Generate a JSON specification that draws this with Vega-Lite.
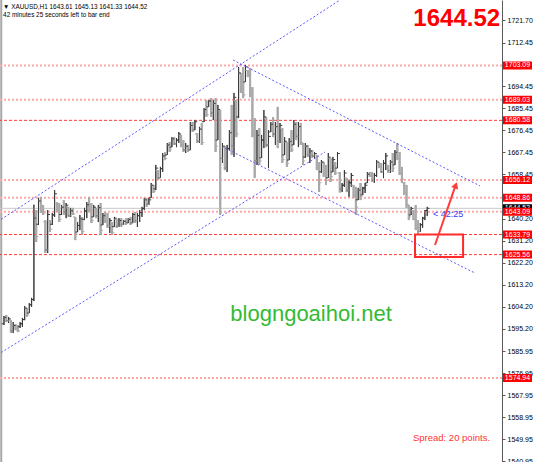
{
"$schema": "https://vega.github.io/schema/vega-lite/v6.json",
"width": 502, "height": 462,
"autosize": {"type": "none"},
"padding": {"left": 0, "top": 0, "right": 32, "bottom": 0},
"background": "white",
"config": {"view": {"stroke": null}, "font": "Liberation Sans"},
"datasets": {
"bars": [
{"t":0,"o":1597.2,"h":1600.4,"l":1596.7,"c":1599.8},
{"t":1,"o":1599.8,"h":1600.8,"l":1597.9,"c":1598.5},
{"t":2,"o":1598.5,"h":1600.0,"l":1597.5,"c":1599.2},
{"t":3,"o":1598.7,"h":1598.7,"l":1593.4,"c":1594.2},
{"t":4,"o":1594.2,"h":1597.9,"l":1593.4,"c":1596.5},
{"t":5,"o":1596.5,"h":1597.1,"l":1594.6,"c":1595.0},
{"t":6,"o":1595.0,"h":1596.7,"l":1593.8,"c":1594.3},
{"t":7,"o":1596.0,"h":1597.9,"l":1595.5,"c":1597.2},
{"t":8,"o":1597.2,"h":1599.6,"l":1595.9,"c":1598.9},
{"t":9,"o":1599.0,"h":1604.5,"l":1598.7,"c":1603.6},
{"t":10,"o":1603.6,"h":1603.7,"l":1600.0,"c":1600.8},
{"t":11,"o":1601.6,"h":1605.7,"l":1601.6,"c":1605.0},
{"t":12,"o":1605.0,"h":1607.8,"l":1604.1,"c":1607.2},
{"t":13,"o":1607.2,"h":1646.0,"l":1606.5,"c":1640.5},
{"t":14,"o":1640.5,"h":1643.8,"l":1630.7,"c":1633.0},
{"t":15,"o":1638.0,"h":1648.8,"l":1637.7,"c":1647.5},
{"t":16,"o":1647.5,"h":1649.2,"l":1642.6,"c":1643.5},
{"t":17,"o":1643.5,"h":1645.9,"l":1641.8,"c":1642.5},
{"t":18,"o":1639.0,"h":1639.7,"l":1626.2,"c":1627.5},
{"t":19,"o":1627.5,"h":1643.8,"l":1626.2,"c":1642.0},
{"t":20,"o":1639.5,"h":1639.7,"l":1634.8,"c":1636.0},
{"t":21,"o":1638.0,"h":1642.6,"l":1637.7,"c":1641.8},
{"t":22,"o":1641.8,"h":1652.0,"l":1641.0,"c":1650.5},
{"t":23,"o":1646.5,"h":1647.1,"l":1643.0,"c":1644.0},
{"t":24,"o":1644.0,"h":1646.7,"l":1638.9,"c":1640.0},
{"t":25,"o":1642.0,"h":1645.9,"l":1641.8,"c":1645.0},
{"t":26,"o":1645.0,"h":1647.9,"l":1641.8,"c":1643.0},
{"t":27,"o":1643.0,"h":1646.7,"l":1640.5,"c":1645.8},
{"t":28,"o":1645.1,"h":1645.1,"l":1641.0,"c":1641.5},
{"t":29,"o":1641.5,"h":1644.7,"l":1641.0,"c":1643.5},
{"t":30,"o":1643.5,"h":1644.7,"l":1641.8,"c":1642.2},
{"t":31,"o":1641.0,"h":1641.0,"l":1631.5,"c":1634.0},
{"t":32,"o":1634.8,"h":1638.9,"l":1634.8,"c":1637.5},
{"t":33,"o":1637.5,"h":1641.8,"l":1635.6,"c":1640.2},
{"t":34,"o":1640.2,"h":1641.0,"l":1633.6,"c":1635.0},
{"t":35,"o":1640.0,"h":1644.7,"l":1639.7,"c":1643.5},
{"t":36,"o":1643.5,"h":1647.1,"l":1640.5,"c":1646.0},
{"t":37,"o":1646.0,"h":1649.2,"l":1643.0,"c":1644.0},
{"t":38,"o":1644.0,"h":1646.7,"l":1638.5,"c":1639.5},
{"t":39,"o":1641.0,"h":1645.9,"l":1641.0,"c":1645.0},
{"t":40,"o":1644.5,"h":1644.7,"l":1640.5,"c":1641.5},
{"t":41,"o":1641.5,"h":1645.9,"l":1638.9,"c":1644.8},
{"t":42,"o":1644.8,"h":1646.7,"l":1633.6,"c":1635.5},
{"t":43,"o":1637.7,"h":1642.6,"l":1637.7,"c":1641.5},
{"t":44,"o":1641.5,"h":1643.0,"l":1638.5,"c":1639.5},
{"t":45,"o":1639.5,"h":1642.6,"l":1636.5,"c":1637.5},
{"t":46,"o":1637.5,"h":1640.5,"l":1634.4,"c":1639.5},
{"t":47,"o":1638.5,"h":1638.9,"l":1633.6,"c":1634.5},
{"t":48,"o":1637.0,"h":1641.0,"l":1636.9,"c":1640.5},
{"t":49,"o":1640.0,"h":1640.2,"l":1636.5,"c":1637.2},
{"t":50,"o":1637.2,"h":1640.5,"l":1636.9,"c":1639.5},
{"t":51,"o":1639.5,"h":1640.5,"l":1636.9,"c":1638.0},
{"t":52,"o":1638.0,"h":1639.7,"l":1637.7,"c":1639.2},
{"t":53,"o":1639.2,"h":1640.5,"l":1637.7,"c":1638.3},
{"t":54,"o":1638.5,"h":1640.5,"l":1638.5,"c":1640.0},
{"t":55,"o":1640.0,"h":1641.0,"l":1637.7,"c":1638.5},
{"t":56,"o":1638.5,"h":1642.6,"l":1638.5,"c":1642.0},
{"t":57,"o":1642.0,"h":1643.0,"l":1638.5,"c":1639.5},
{"t":58,"o":1639.5,"h":1642.6,"l":1636.9,"c":1641.5},
{"t":59,"o":1641.5,"h":1643.8,"l":1638.9,"c":1642.8},
{"t":60,"o":1642.8,"h":1645.1,"l":1641.0,"c":1644.5},
{"t":61,"o":1644.5,"h":1648.8,"l":1643.8,"c":1648.0},
{"t":62,"o":1648.0,"h":1648.8,"l":1645.1,"c":1646.2},
{"t":63,"o":1646.2,"h":1648.8,"l":1645.9,"c":1648.0},
{"t":64,"o":1648.8,"h":1654.9,"l":1648.8,"c":1654.0},
{"t":65,"o":1654.0,"h":1654.1,"l":1650.8,"c":1651.5},
{"t":66,"o":1652.5,"h":1662.3,"l":1652.0,"c":1661.0},
{"t":67,"o":1660.0,"h":1660.2,"l":1656.1,"c":1657.0},
{"t":68,"o":1657.0,"h":1661.5,"l":1657.0,"c":1660.8},
{"t":69,"o":1660.8,"h":1667.2,"l":1659.4,"c":1666.0},
{"t":70,"o":1666.0,"h":1667.6,"l":1664.3,"c":1665.0},
{"t":71,"o":1666.4,"h":1671.3,"l":1666.4,"c":1670.5},
{"t":72,"o":1670.5,"h":1671.7,"l":1667.6,"c":1668.5},
{"t":73,"o":1669.6,"h":1673.7,"l":1669.6,"c":1673.0},
{"t":74,"o":1673.0,"h":1673.7,"l":1670.5,"c":1671.0},
{"t":75,"o":1671.0,"h":1673.3,"l":1669.6,"c":1672.5},
{"t":76,"o":1672.5,"h":1675.8,"l":1671.3,"c":1675.0},
{"t":77,"o":1674.5,"h":1674.6,"l":1669.6,"c":1670.5},
{"t":78,"o":1670.5,"h":1672.5,"l":1667.6,"c":1668.5},
{"t":79,"o":1668.5,"h":1671.3,"l":1667.2,"c":1670.0},
{"t":80,"o":1670.0,"h":1670.5,"l":1667.6,"c":1668.3},
{"t":81,"o":1668.4,"h":1679.9,"l":1668.4,"c":1678.5},
{"t":82,"o":1678.5,"h":1679.9,"l":1675.8,"c":1676.5},
{"t":83,"o":1676.6,"h":1680.7,"l":1676.6,"c":1680.0},
{"t":84,"o":1675.0,"h":1675.4,"l":1671.3,"c":1672.0},
{"t":85,"o":1672.0,"h":1677.9,"l":1671.3,"c":1677.0},
{"t":86,"o":1677.0,"h":1679.5,"l":1670.5,"c":1671.5},
{"t":87,"o":1680.0,"h":1685.6,"l":1679.9,"c":1685.0},
{"t":88,"o":1685.0,"h":1688.9,"l":1682.0,"c":1683.0},
{"t":89,"o":1686.1,"h":1688.9,"l":1686.1,"c":1688.5},
{"t":90,"o":1688.5,"h":1689.7,"l":1682.0,"c":1683.5},
{"t":91,"o":1683.5,"h":1688.9,"l":1680.7,"c":1687.5},
{"t":92,"o":1687.5,"h":1689.7,"l":1667.6,"c":1670.0},
{"t":93,"o":1672.5,"h":1686.9,"l":1672.5,"c":1685.0},
{"t":94,"o":1684.5,"h":1684.8,"l":1641.8,"c":1665.0},
{"t":95,"o":1665.0,"h":1671.3,"l":1663.1,"c":1670.0},
{"t":96,"o":1669.5,"h":1670.0,"l":1660.2,"c":1661.0},
{"t":97,"o":1661.0,"h":1670.5,"l":1659.4,"c":1669.0},
{"t":98,"o":1669.0,"h":1676.6,"l":1668.4,"c":1675.5},
{"t":99,"o":1675.5,"h":1686.9,"l":1666.4,"c":1670.0},
{"t":100,"o":1670.0,"h":1691.8,"l":1665.6,"c":1690.0},
{"t":101,"o":1688.5,"h":1688.9,"l":1673.7,"c":1675.0},
{"t":102,"o":1682.0,"h":1702.4,"l":1681.5,"c":1700.0},
{"t":103,"o":1700.0,"h":1700.0,"l":1691.8,"c":1693.5},
{"t":104,"o":1693.5,"h":1702.4,"l":1689.7,"c":1691.0},
{"t":105,"o":1696.3,"h":1703.3,"l":1696.3,"c":1702.5},
{"t":106,"o":1701.0,"h":1701.2,"l":1698.3,"c":1699.0},
{"t":107,"o":1699.0,"h":1702.0,"l":1690.1,"c":1691.5},
{"t":108,"o":1691.5,"h":1694.2,"l":1673.7,"c":1675.0},
{"t":109,"o":1675.0,"h":1681.5,"l":1657.0,"c":1664.0},
{"t":110,"o":1664.0,"h":1676.6,"l":1662.3,"c":1674.5},
{"t":111,"o":1674.5,"h":1677.4,"l":1662.3,"c":1664.0},
{"t":112,"o":1665.2,"h":1674.6,"l":1665.2,"c":1672.5},
{"t":113,"o":1672.5,"h":1684.8,"l":1669.2,"c":1682.0},
{"t":114,"o":1681.5,"h":1681.9,"l":1669.6,"c":1670.5},
{"t":115,"o":1670.5,"h":1676.6,"l":1661.0,"c":1674.0},
{"t":116,"o":1675.8,"h":1679.9,"l":1675.8,"c":1679.0},
{"t":117,"o":1679.0,"h":1681.9,"l":1673.7,"c":1675.0},
{"t":118,"o":1675.0,"h":1679.9,"l":1670.5,"c":1678.0},
{"t":119,"o":1678.0,"h":1686.1,"l":1669.2,"c":1672.0},
{"t":120,"o":1672.0,"h":1679.5,"l":1671.3,"c":1678.5},
{"t":121,"o":1677.4,"h":1677.4,"l":1663.1,"c":1664.5},
{"t":122,"o":1666.4,"h":1673.7,"l":1666.4,"c":1672.0},
{"t":123,"o":1671.5,"h":1671.7,"l":1661.5,"c":1663.0},
{"t":124,"o":1664.3,"h":1673.3,"l":1664.3,"c":1672.0},
{"t":125,"o":1672.0,"h":1676.6,"l":1667.6,"c":1668.5},
{"t":126,"o":1670.5,"h":1680.7,"l":1670.5,"c":1679.0},
{"t":127,"o":1679.0,"h":1679.9,"l":1672.5,"c":1674.0},
{"t":128,"o":1674.0,"h":1679.9,"l":1669.6,"c":1678.0},
{"t":129,"o":1678.0,"h":1679.5,"l":1670.5,"c":1671.5},
{"t":130,"o":1671.0,"h":1671.3,"l":1662.3,"c":1664.0},
{"t":131,"o":1665.5,"h":1671.3,"l":1665.2,"c":1670.0},
{"t":132,"o":1670.0,"h":1670.5,"l":1665.6,"c":1666.5},
{"t":133,"o":1666.5,"h":1669.2,"l":1663.1,"c":1668.0},
{"t":134,"o":1668.0,"h":1668.4,"l":1665.2,"c":1666.0},
{"t":135,"o":1666.0,"h":1667.6,"l":1665.2,"c":1667.0},
{"t":136,"o":1666.4,"h":1666.4,"l":1660.2,"c":1661.5},
{"t":137,"o":1661.5,"h":1663.5,"l":1651.2,"c":1655.0},
{"t":138,"o":1659.5,"h":1664.3,"l":1659.0,"c":1663.5},
{"t":139,"o":1663.5,"h":1663.5,"l":1657.4,"c":1658.5},
{"t":140,"o":1658.5,"h":1662.3,"l":1654.1,"c":1656.0},
{"t":141,"o":1657.0,"h":1667.2,"l":1657.0,"c":1665.5},
{"t":142,"o":1665.0,"h":1665.2,"l":1655.3,"c":1657.5},
{"t":143,"o":1659.4,"h":1665.6,"l":1659.4,"c":1664.5},
{"t":144,"o":1663.0,"h":1663.5,"l":1658.2,"c":1659.0},
{"t":145,"o":1661.0,"h":1667.6,"l":1661.0,"c":1667.0},
{"t":146,"o":1659.0,"h":1659.4,"l":1651.0,"c":1652.5},
{"t":147,"o":1652.5,"h":1654.9,"l":1651.2,"c":1654.0},
{"t":148,"o":1654.0,"h":1660.2,"l":1653.3,"c":1659.0},
{"t":149,"o":1657.0,"h":1657.0,"l":1651.2,"c":1652.0},
{"t":150,"o":1652.0,"h":1656.1,"l":1649.2,"c":1655.0},
{"t":151,"o":1655.0,"h":1659.0,"l":1653.3,"c":1658.0},
{"t":152,"o":1654.0,"h":1654.1,"l":1648.8,"c":1650.0},
{"t":153,"o":1650.0,"h":1653.3,"l":1641.8,"c":1645.0},
{"t":154,"o":1648.0,"h":1652.9,"l":1647.9,"c":1652.0},
{"t":155,"o":1652.0,"h":1654.9,"l":1647.9,"c":1649.5},
{"t":156,"o":1650.0,"h":1653.3,"l":1650.0,"c":1652.8},
{"t":157,"o":1652.8,"h":1654.9,"l":1650.8,"c":1654.0},
{"t":158,"o":1654.9,"h":1659.4,"l":1654.9,"c":1658.5},
{"t":159,"o":1658.5,"h":1659.4,"l":1657.4,"c":1657.8},
{"t":160,"o":1657.8,"h":1659.4,"l":1655.3,"c":1656.0},
{"t":161,"o":1656.0,"h":1659.0,"l":1654.9,"c":1658.0},
{"t":162,"o":1658.0,"h":1664.3,"l":1657.4,"c":1663.5},
{"t":163,"o":1663.5,"h":1663.5,"l":1661.0,"c":1661.5},
{"t":164,"o":1661.5,"h":1663.1,"l":1659.0,"c":1659.5},
{"t":165,"o":1659.5,"h":1664.3,"l":1656.9,"c":1663.0},
{"t":166,"o":1663.0,"h":1667.2,"l":1660.2,"c":1666.0},
{"t":167,"o":1662.0,"h":1662.3,"l":1659.0,"c":1660.0},
{"t":168,"o":1660.0,"h":1664.3,"l":1659.0,"c":1663.5},
{"t":169,"o":1663.5,"h":1667.2,"l":1659.4,"c":1661.0},
{"t":170,"o":1662.3,"h":1668.4,"l":1662.3,"c":1667.5},
{"t":171,"o":1667.5,"h":1671.3,"l":1664.3,"c":1665.0},
{"t":172,"o":1665.0,"h":1667.6,"l":1658.2,"c":1659.0},
{"t":173,"o":1659.0,"h":1661.5,"l":1654.9,"c":1656.5},
{"t":174,"o":1655.0,"h":1655.3,"l":1650.0,"c":1651.0},
{"t":175,"o":1651.0,"h":1654.1,"l":1644.7,"c":1646.0},
{"t":176,"o":1645.9,"h":1645.9,"l":1639.7,"c":1641.0},
{"t":177,"o":1641.8,"h":1645.1,"l":1641.8,"c":1644.5},
{"t":178,"o":1643.5,"h":1643.8,"l":1639.7,"c":1640.0},
{"t":179,"o":1640.0,"h":1645.9,"l":1635.6,"c":1636.5},
{"t":180,"o":1636.5,"h":1639.7,"l":1633.6,"c":1635.0},
{"t":181,"o":1635.0,"h":1638.5,"l":1634.8,"c":1637.8},
{"t":182,"o":1637.8,"h":1641.0,"l":1636.5,"c":1640.5},
{"t":183,"o":1640.5,"h":1643.8,"l":1639.7,"c":1643.6},
{"t":184,"o":1643.61,"h":1645.13,"l":1641.33,"c":1644.52}
],
"levels": [
{"p":1703.09,"g":"a"},{"p":1689.03,"g":"a"},{"p":1680.58,"g":"b"},
{"p":1656.12,"g":"a"},{"p":1648.86,"g":"a"},{"p":1643.09,"g":"a"},
{"p":1633.79,"g":"b"},{"p":1625.56,"g":"b"},{"p":1574.94,"g":"a"}
],
"channels": [
{"id":"L1","t":-1.3,"p":1640.0},{"id":"L1","t":146.1,"p":1729.9},
{"id":"L2","t":-1.3,"p":1585.4},{"id":"L2","t":139.6,"p":1667.6},
{"id":"L3","t":99.57,"p":1705.3},{"id":"L3","t":206.96,"p":1653.7},
{"id":"L4","t":96.09,"p":1669.2},{"id":"L4","t":204.78,"p":1618.0}
],
"current": [{"p":1644.52}]
},
"layer": [
{
"data": {"name": "bars"},
"mark": {"type": "rule"},
"encoding": {
"x": {"field": "t", "type": "quantitative", "scale": {"domain": [-1.739, 216.522], "nice": false, "zero": false}, "axis": null},
"y": {"field": "l", "type": "quantitative", "scale": {"domain": [1540.56, 1729.9], "nice": false, "zero": false},
 "axis": {"orient": "right", "values": [1721.70, 1712.45, 1694.45, 1685.45, 1676.45, 1667.45, 1658.45, 1640.20, 1631.20, 1622.20, 1613.20, 1604.20, 1595.20, 1585.95, 1576.95, 1567.95, 1558.95, 1549.95, 1540.95],
  "tickCount": 40, "format": ".2f", "title": null, "grid": false, "domain": true, "domainColor": "#5a5a5a", "domainWidth": 1, "ticks": true, "tickSize": 3, "tickColor": "#5a5a5a",
  "labelFont": "Liberation Sans", "labelFontSize": 7, "labelColor": "#000000", "labelPadding": 2, "labelBaseline": "middle", "labelFlush": false, "labelOverlap": false, "labelBound": false}},
"y2": {"field": "h"},
"color": {"condition": {"test": "datum.c >= datum.o", "value": "#3a3a3a"}, "value": "#a9a9a9"},
"strokeWidth": {"condition": {"test": "datum.c >= datum.o", "value": 1}, "value": 2}
}
},
{
"data": {"values": [{}]},
"mark": {"type": "rule", "color": "#a8a8a8", "strokeWidth": 2},
"encoding": {
"x": {"datum": -1.2, "type": "quantitative", "scale": {"domain": [-1.739, 216.522], "nice": false, "zero": false}, "axis": null}
}
},
{
"data": {"name": "levels"},
"transform": [{"filter": "datum.g == 'a'"}],
"mark": {"type": "rule", "color": "#ffa8a8", "strokeWidth": 2, "strokeDash": [2, 2]},
"encoding": {
"y": {"field": "p", "type": "quantitative", "scale": {"domain": [1540.56, 1729.9], "nice": false, "zero": false}}
}
},
{
"data": {"name": "levels"},
"transform": [{"filter": "datum.g == 'b'"}],
"mark": {"type": "rule", "color": "#ff3b3b", "strokeWidth": 1, "strokeDash": [3, 2]},
"encoding": {
"y": {"field": "p", "type": "quantitative", "scale": {"domain": [1540.56, 1729.9], "nice": false, "zero": false}}
}
},
{
"data": {"name": "current"},
"mark": {"type": "rule", "color": "#c8c8c8", "strokeWidth": 1},
"encoding": {
"y": {"field": "p", "type": "quantitative", "scale": {"domain": [1540.56, 1729.9], "nice": false, "zero": false}}
}
},
{
"data": {"name": "bars"},
"mark": {"type": "rule"},
"encoding": {
"x": {"field": "t", "type": "quantitative", "scale": {"domain": [-1.739, 216.522], "nice": false, "zero": false}, "axis": null},
"y": {"field": "l", "type": "quantitative", "scale": {"domain": [1540.56, 1729.9], "nice": false, "zero": false}},
"y2": {"field": "h"},
"color": {"condition": {"test": "datum.c >= datum.o", "value": "#3a3a3a"}, "value": "#a9a9a9"},
"strokeWidth": {"condition": {"test": "datum.c >= datum.o", "value": 1}, "value": 2}
}
},
{
"data": {"name": "bars"},
"mark": {"type": "tick", "orient": "horizontal", "size": 2, "thickness": 1, "xOffset": -1.3, "opacity": 1},
"encoding": {
"x": {"field": "t", "type": "quantitative", "scale": {"domain": [-1.739, 216.522], "nice": false, "zero": false}, "axis": null},
"y": {"field": "o", "type": "quantitative", "scale": {"domain": [1540.56, 1729.9], "nice": false, "zero": false}},
"color": {"condition": {"test": "datum.c >= datum.o", "value": "#3a3a3a"}, "value": "#a9a9a9"}
}
},
{
"data": {"name": "bars"},
"mark": {"type": "tick", "orient": "horizontal", "size": 2, "thickness": 1, "xOffset": 1.3, "opacity": 1},
"encoding": {
"x": {"field": "t", "type": "quantitative", "scale": {"domain": [-1.739, 216.522], "nice": false, "zero": false}, "axis": null},
"y": {"field": "c", "type": "quantitative", "scale": {"domain": [1540.56, 1729.9], "nice": false, "zero": false}},
"color": {"condition": {"test": "datum.c >= datum.o", "value": "#3a3a3a"}, "value": "#a9a9a9"}
}
},
{
"data": {"name": "channels"},
"mark": {"type": "line", "color": "#5a5aff", "strokeWidth": 1, "strokeDash": [2, 2]},
"encoding": {
"x": {"field": "t", "type": "quantitative", "scale": {"domain": [-1.739, 216.522], "nice": false, "zero": false}, "axis": null},
"y": {"field": "p", "type": "quantitative", "scale": {"domain": [1540.56, 1729.9], "nice": false, "zero": false}},
"detail": {"field": "id", "type": "nominal"}
}
},
{
"data": {"values": [{}]},
"mark": {"type": "text", "text": "▼ XAUUSD,H1  1643.61 1645.13 1641.33 1644.52", "align": "left", "baseline": "alphabetic", "fontSize": 6.4, "color": "#000000"},
"encoding": {
"x": {"datum": -0.4, "type": "quantitative", "scale": {"domain": [-1.739, 216.522], "nice": false, "zero": false}, "axis": null},
"y": {"datum": 1726.2, "type": "quantitative", "scale": {"domain": [1540.56, 1729.9], "nice": false, "zero": false}}
}
},
{
"data": {"values": [{}]},
"mark": {"type": "text", "text": "42 minutes 25 seconds left to bar end", "align": "left", "baseline": "alphabetic", "fontSize": 6.4, "color": "#000000"},
"encoding": {
"x": {"datum": -0.4, "type": "quantitative", "scale": {"domain": [-1.739, 216.522], "nice": false, "zero": false}, "axis": null},
"y": {"datum": 1722.9, "type": "quantitative", "scale": {"domain": [1540.56, 1729.9], "nice": false, "zero": false}}
}
},
{
"data": {"values": [{}]},
"mark": {"type": "text", "text": "blogngoaihoi.net", "align": "center", "baseline": "alphabetic", "fontSize": 22, "color": "#33bb33"},
"encoding": {
"x": {"datum": 133.5, "type": "quantitative", "scale": {"domain": [-1.739, 216.522], "nice": false, "zero": false}, "axis": null},
"y": {"datum": 1598.3, "type": "quantitative", "scale": {"domain": [1540.56, 1729.9], "nice": false, "zero": false}}
}
},
{
"data": {"values": [{}]},
"mark": {"type": "text", "text": "Spread: 20 points.", "align": "left", "baseline": "alphabetic", "fontSize": 9.5, "color": "#ff3333"},
"encoding": {
"x": {"datum": 177.8, "type": "quantitative", "scale": {"domain": [-1.739, 216.522], "nice": false, "zero": false}, "axis": null},
"y": {"datum": 1549.2, "type": "quantitative", "scale": {"domain": [1540.56, 1729.9], "nice": false, "zero": false}}
}
},
{
"data": {"values": [{}]},
"mark": {"type": "text", "text": "< 42:25", "align": "left", "baseline": "alphabetic", "fontSize": 9, "color": "#3b3bff"},
"encoding": {
"x": {"datum": 186.5, "type": "quantitative", "scale": {"domain": [-1.739, 216.522], "nice": false, "zero": false}, "axis": null},
"y": {"datum": 1641.0, "type": "quantitative", "scale": {"domain": [1540.56, 1729.9], "nice": false, "zero": false}}
}
},
{
"data": {"values": [{}]},
"mark": {"type": "rect", "fillOpacity": 0, "stroke": "#ff2a2a", "strokeWidth": 2},
"encoding": {
"x": {"datum": 178.7, "type": "quantitative", "scale": {"domain": [-1.739, 216.522], "nice": false, "zero": false}, "axis": null},
"x2": {"datum": 199.6},
"y": {"datum": 1633.8, "type": "quantitative", "scale": {"domain": [1540.56, 1729.9], "nice": false, "zero": false}},
"y2": {"datum": 1624.6}
}
},
{
"data": {"values": [{"t": 187.4, "p": 1629.5}, {"t": 196.1, "p": 1653.3}]},
"mark": {"type": "line", "color": "#ff3b3b", "strokeWidth": 2},
"encoding": {
"x": {"field": "t", "type": "quantitative", "scale": {"domain": [-1.739, 216.522], "nice": false, "zero": false}, "axis": null},
"y": {"field": "p", "type": "quantitative", "scale": {"domain": [1540.56, 1729.9], "nice": false, "zero": false}}
}
},
{
"data": {"values": [{"t": 196.4, "p": 1654.0}]},
"mark": {"type": "point", "shape": "triangle-up", "angle": 19, "size": 55, "filled": true, "color": "#ff3b3b", "opacity": 1},
"encoding": {
"x": {"field": "t", "type": "quantitative", "scale": {"domain": [-1.739, 216.522], "nice": false, "zero": false}, "axis": null},
"y": {"field": "p", "type": "quantitative", "scale": {"domain": [1540.56, 1729.9], "nice": false, "zero": false}}
}
},
{
"data": {"name": "current"},
"mark": {"type": "tick", "orient": "horizontal", "size": 29, "thickness": 8, "color": "#000000", "opacity": 1},
"encoding": {
"x": {"datum": 223.26, "type": "quantitative", "scale": {"domain": [-1.739, 216.522], "nice": false, "zero": false}, "axis": null},
"y": {"field": "p", "type": "quantitative", "scale": {"domain": [1540.56, 1729.9], "nice": false, "zero": false}}
}
},
{
"data": {"name": "current"},
"mark": {"type": "text", "align": "center", "baseline": "middle", "font": "Liberation Sans", "fontSize": 7, "color": "#ffffff"},
"encoding": {
"x": {"datum": 223.26, "type": "quantitative", "scale": {"domain": [-1.739, 216.522], "nice": false, "zero": false}, "axis": null},
"y": {"field": "p", "type": "quantitative", "scale": {"domain": [1540.56, 1729.9], "nice": false, "zero": false}},
"text": {"field": "p", "type": "quantitative", "format": ".2f"}
}
},
{
"data": {"name": "levels"},
"mark": {"type": "tick", "orient": "horizontal", "size": 29, "thickness": 8, "color": "#ff0000", "opacity": 1},
"encoding": {
"x": {"datum": 223.26, "type": "quantitative", "scale": {"domain": [-1.739, 216.522], "nice": false, "zero": false}, "axis": null},
"y": {"field": "p", "type": "quantitative", "scale": {"domain": [1540.56, 1729.9], "nice": false, "zero": false}}
}
},
{
"data": {"name": "levels"},
"mark": {"type": "text", "align": "center", "baseline": "middle", "font": "Liberation Sans", "fontSize": 7, "color": "#ffffff"},
"encoding": {
"x": {"datum": 223.26, "type": "quantitative", "scale": {"domain": [-1.739, 216.522], "nice": false, "zero": false}, "axis": null},
"y": {"field": "p", "type": "quantitative", "scale": {"domain": [1540.56, 1729.9], "nice": false, "zero": false}},
"text": {"field": "p", "type": "quantitative", "format": ".2f"}
}
},
{
"data": {"values": [{}]},
"mark": {"type": "text", "text": "1644.52", "align": "right", "baseline": "alphabetic", "fontSize": 24, "fontWeight": "bold", "color": "#ff0000"},
"encoding": {
"x": {"datum": 215.7, "type": "quantitative", "scale": {"domain": [-1.739, 216.522], "nice": false, "zero": false}, "axis": null},
"y": {"datum": 1719.2, "type": "quantitative", "scale": {"domain": [1540.56, 1729.9], "nice": false, "zero": false}}
}
}
]
}
